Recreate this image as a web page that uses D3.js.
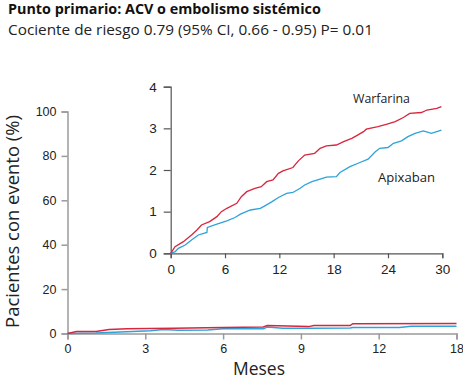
<!DOCTYPE html>
<html><head><meta charset="utf-8">
<script src="https://cdn.jsdelivr.net/npm/d3@7"></script>
<style>
body{margin:0;background:#fff;}
svg{display:block;font-family:"Open Sans","Lato",sans-serif;}
</style></head>
<body><svg id="c" width="463" height="379"></svg>
<script>
const title = "Punto primario: ACV o embolismo sistémico";
const subtitle = "Cociente de riesgo 0.79 (95% CI, 0.66 - 0.95) P= 0.01";
const yLabel = "Pacientes con evento (%)";
const xLabel = "Meses";
const mainXTicks = [0, 3, 6, 9, 12, 18];
const mainYTicks = [0, 20, 40, 60, 80, 100];
const insetXTicks = [0, 6, 12, 18, 24, 30];
const insetYTicks = [0, 1, 2, 3, 4];
const seriesNames = ["Warfarina", "Apixaban"];

// Main chart (months, %)
const mainWarfMonths = [0, 0.35, 1.1, 1.6, 2.3, 4.1, 6.0, 7.55, 7.7, 9.3, 9.5, 10.9, 11.0, 18];
const mainWarfPct    = [0, 0.9, 0.9, 1.8, 2.1, 2.4, 2.7, 2.9, 3.6, 3.1, 3.6, 3.6, 4.4, 4.5];
const mainApixMonths = [0, 1.1, 3.2, 3.7, 4.3, 5.4, 6.0, 7.55, 7.7, 8.3, 9.3, 10.9, 11.0, 13.6, 14.5, 18];
const mainApixPct    = [0, 0.2, 1.2, 1.8, 1.5, 1.6, 2.1, 2.1, 2.9, 2.4, 2.4, 2.5, 2.7, 2.7, 3.3, 3.3];

// Inset (months 0-30, %)
const insetWarfMonths = [0,0.48,1.4,2.3,2.9,3.4,4.3,5.1,5.6,6.2,7.3,7.8,8.4,9.3,10.0,10.6,11.3,11.9,12.4,13.5,14.1,14.8,15.9,16.5,17.2,18.3,19.1,20.0,20.5,21.3,21.6,22.9,23.9,24.8,25.7,26.4,27.7,28.3,29.4,29.9];
const insetWarfPct    = [0,0.16,0.28,0.44,0.56,0.68,0.76,0.88,1.0,1.08,1.2,1.36,1.48,1.56,1.6,1.72,1.76,1.92,1.98,2.06,2.22,2.36,2.4,2.52,2.58,2.6,2.68,2.76,2.82,2.92,2.98,3.04,3.1,3.16,3.26,3.36,3.38,3.44,3.48,3.52];
const insetApixMonths = [0,0.5,0.85,1.6,2.3,3.05,4.0,4.05,5.1,6.2,7.1,7.7,8.8,9.9,10.4,11.2,11.9,12.8,13.5,14.3,14.8,15.6,16.5,17.2,18.3,18.7,19.8,20.9,21.8,22.6,23.1,24.0,24.6,25.5,26.2,27.0,27.9,28.8,29.9];
const insetApixPct    = [0,0.04,0.12,0.2,0.32,0.44,0.5,0.62,0.7,0.78,0.86,0.94,1.04,1.08,1.14,1.24,1.34,1.44,1.46,1.56,1.64,1.72,1.78,1.83,1.84,1.94,2.08,2.18,2.26,2.44,2.52,2.54,2.64,2.7,2.8,2.88,2.94,2.88,2.96];

const RED = "#d7263d", BLUE = "#2ea3d9";
const svg = d3.select("#c");

function fit(sel, w) {
  const cur = sel.node().getComputedTextLength();
  const fs = parseFloat(sel.attr("font-size"));
  sel.attr("font-size", (fs * w / cur).toFixed(2));
  return sel;
}

fit(svg.append("text").attr("x", 8).attr("y", 14).attr("font-size", 14).attr("font-weight", 700).attr("fill", "#111").text(title), 313);
fit(svg.append("text").attr("x", 8).attr("y", 34.5).attr("font-size", 13).attr("fill", "#222").text(subtitle), 365);

// Main (tick positions evenly spaced as in the source figure)
const mx = d3.scaleLinear().domain(mainXTicks).range(mainXTicks.map((d, i) => 67.5 + i * 77.8));
const my = d3.scaleLinear().domain([0, 100]).range([333.5, 111.5]);
const gx = svg.append("g").attr("transform", `translate(0,${my(0)})`)
  .call(d3.axisBottom(mx).tickValues(mainXTicks).tickSize(6).tickPadding(5));
const gy = svg.append("g").attr("transform", `translate(${mx(0)},0)`)
  .call(d3.axisLeft(my).tickValues(mainYTicks).tickSize(6).tickPadding(5));
[gx, gy].forEach(g => {
  g.selectAll("path,line").attr("stroke", "#9a9a9a").attr("stroke-width", 1.5);
  g.selectAll("text").attr("font-size", 12.5).attr("fill", "#222");
});

const mline = d3.line().x(d => mx(d[0])).y(d => my(d[1]));
svg.append("path").datum(d3.zip(mainApixMonths, mainApixPct)).attr("d", mline)
  .attr("fill", "none").attr("stroke", BLUE).attr("stroke-width", 1.5);
svg.append("path").datum(d3.zip(mainWarfMonths, mainWarfPct)).attr("d", mline)
  .attr("fill", "none").attr("stroke", RED).attr("stroke-width", 1.5);

fit(svg.append("text").attr("transform", `translate(19,221.5) rotate(-90)`)
  .attr("text-anchor", "middle").attr("font-size", 17).attr("fill", "#222").text(yLabel), 213);
fit(svg.append("text").attr("x", 259).attr("y", 375).attr("text-anchor", "middle")
  .attr("font-size", 17).attr("fill", "#222").text(xLabel), 52);

// Inset
const ix = d3.scaleLinear().domain([0, 30]).range([170.7, 442.3]);
const iy = d3.scaleLinear().domain([0, 4]).range([253.3, 86.7]);
const igx = svg.append("g").attr("transform", `translate(0,${iy(0)})`)
  .call(d3.axisBottom(ix).tickValues(insetXTicks).tickSize(5).tickPadding(6).tickFormat(d3.format("d")));
const igy = svg.append("g").attr("transform", `translate(${ix(0)},0)`)
  .call(d3.axisLeft(iy).tickValues(insetYTicks).tickSize(7).tickPadding(7).tickFormat(d3.format("d")));
[igx, igy].forEach(g => {
  g.selectAll("path,line").attr("stroke", "#555").attr("stroke-width", 1.2);
  g.selectAll("text").attr("font-size", 13.5).attr("fill", "#222");
});
const iline = d3.line().x(d => ix(d[0])).y(d => iy(d[1]));
svg.append("path").datum(d3.zip(insetApixMonths, insetApixPct)).attr("d", iline)
  .attr("fill", "none").attr("stroke", BLUE).attr("stroke-width", 1.3);
svg.append("path").datum(d3.zip(insetWarfMonths, insetWarfPct)).attr("d", iline)
  .attr("fill", "none").attr("stroke", RED).attr("stroke-width", 1.3);

fit(svg.append("text").attr("x", 353).attr("y", 103.3).attr("font-size", 12.5).attr("fill", "#222").text(seriesNames[0]), 57);
fit(svg.append("text").attr("x", 378).attr("y", 181.5).attr("font-size", 12.5).attr("fill", "#222").text(seriesNames[1]), 57);
</script></body></html>
